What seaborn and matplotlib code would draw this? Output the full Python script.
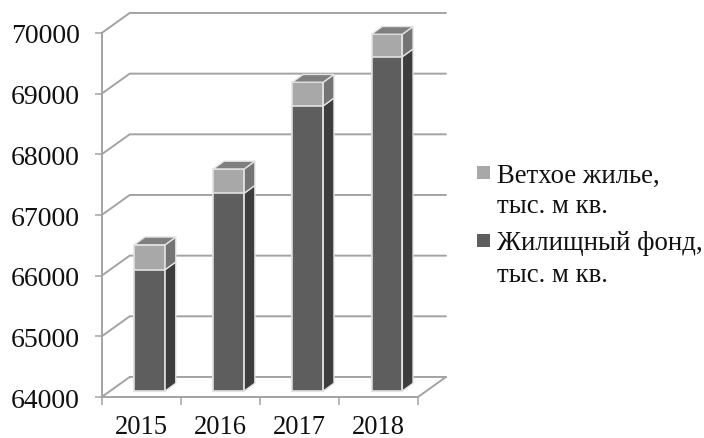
import matplotlib
matplotlib.use("Agg")
import matplotlib.pyplot as plt
from matplotlib.patches import Rectangle
import seaborn as sns

years = ["2015", "2016", "2017", "2018"]
housing = [66000, 67260, 68700, 69510]
old_housing = [410, 400, 390, 370]
total = [h + o for h, o in zip(housing, old_housing)]
y_ticks = [64000, 65000, 66000, 67000, 68000, 69000, 70000]
legend_old = ["Ветхое жилье,", "тыс. м кв."]
legend_housing = ["Жилищный фонд,", "тыс. м кв."]

W, H = 704, 439
GREY = "#a3a3a3"
EDGE = "#e2e2e2"
TEXT = "#111111"

sns.set_theme(style="white")
plt.rcParams["font.family"] = ["Liberation Serif", "DejaVu Serif"]
plt.rcParams["font.size"] = 19

fig = plt.figure(figsize=(W / 100, H / 100), dpi=100, facecolor="white")
ax = fig.add_axes([101.7 / W, (H - 398) / H, (418 - 101.7) / W, (398 - 34) / H])

sns.barplot(x=years, y=total, color="#a8a8a8", width=0.39, saturation=1,
            edgecolor=EDGE, linewidth=1.2, ax=ax, zorder=3)
sns.barplot(x=years, y=housing, color="#5e5e5e", width=0.39, saturation=1,
            edgecolor=EDGE, linewidth=1.2, ax=ax, zorder=3)

ax.set_xlim(-0.5, 3.5)
ax.set_ylim(64000, 70000)
ax.set_xlabel("")
ax.set_ylabel("")

# pseudo 3d depth, in data units
wall_dx, wall_dy = 0.354, 330
bar_shift_x, bar_shift_y = 0.107, 99
side_dx, side_dy = 0.135, 128

# back wall and floor
for v in y_ticks:
    ax.plot([-0.5, -0.5 + wall_dx, 3.5 + wall_dx],
            [v, v + wall_dy, v + wall_dy], color=GREY, lw=1.4, clip_on=False, zorder=1)
ax.plot([3.5, 3.5 + wall_dx], [64000, 64000 + wall_dy], color=GREY, lw=1.4,
        clip_on=False, zorder=1)

# move bars onto the floor and add sides
n = len(years)
for p in ax.patches:
    value = p.get_height()
    p.set_x(p.get_x() + bar_shift_x)
    p.set_y(64000 + bar_shift_y)
    p.set_height(value - 64000)
    p.set_clip_on(False)

for i in range(n):
    p = ax.patches[i]
    x1 = p.get_x() + p.get_width()
    x0 = p.get_x()
    base = 64000 + bar_shift_y
    mid = housing[i] + bar_shift_y
    top = total[i] + bar_shift_y
    ax.fill([x1, x1 + side_dx, x1 + side_dx, x1],
            [base, base + side_dy, mid + side_dy, mid],
            facecolor="#3d3d3d", edgecolor=EDGE, lw=1.0, clip_on=False, zorder=3)
    ax.fill([x1, x1 + side_dx, x1 + side_dx, x1],
            [mid, mid + side_dy, top + side_dy, top],
            facecolor="#747474", edgecolor=EDGE, lw=1.0, clip_on=False, zorder=3)
    ax.fill([x0, x1, x1 + side_dx, x0 + side_dx],
            [top, top, top + side_dy, top + side_dy],
            facecolor="#7f7f7f", edgecolor=EDGE, lw=1.0, clip_on=False, zorder=3)

# axes
sns.despine(ax=ax)
for side in ["left", "bottom"]:
    ax.spines[side].set_color(GREY)
    ax.spines[side].set_linewidth(1.4)
ax.set_yticks(y_ticks)
ax.tick_params(axis="y", length=5.4, width=1.1, color=GREY, pad=10.5, labelcolor=TEXT,
               labelsize=20, left=True)
ax.set_xticks([-0.5, 0.5, 1.5, 2.5, 3.5])
ax.set_xticklabels([])
ax.tick_params(axis="x", which="major", length=5.4, width=1.1, color=GREY, bottom=True)
ax.set_xticks(range(n), labels=years, minor=True)
ax.tick_params(axis="x", which="minor", length=0, pad=12.5, labelcolor=TEXT, labelsize=19.2)


# legend is drawn by hand, it has two-line entries with swatch at the first line
def fig_x(px):
    return px / W


def fig_y(py):
    return (H - py) / H


for (lines, color, swatch_top, baselines) in [
    (legend_old, "#a8a8a8", 167, [183, 213]),
    (legend_housing, "#5e5e5e", 235, [250, 282]),
]:
    fig.add_artist(Rectangle((fig_x(477), fig_y(swatch_top + 13)), 13 / W, 13 / H,
                             transform=fig.transFigure, facecolor=color, edgecolor="none"))
    for line, b in zip(lines, baselines):
        fig.text(fig_x(497), fig_y(b), line, fontsize=19.3, color=TEXT, va="baseline", ha="left")

fig.savefig("out.png", dpi=100, facecolor="white")
